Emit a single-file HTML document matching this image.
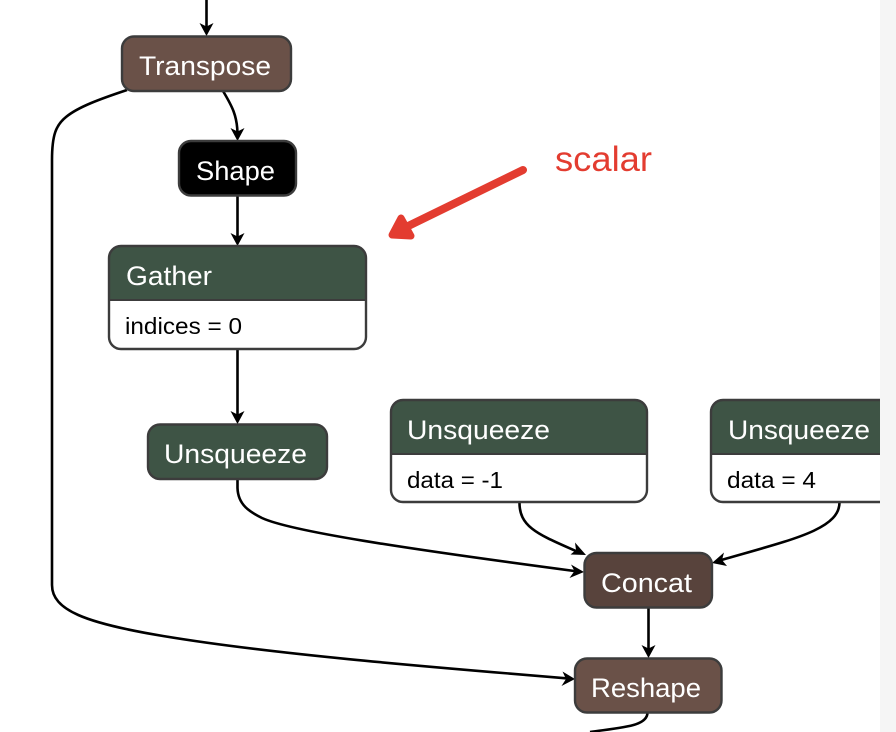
<!DOCTYPE html>
<html>
<head>
<meta charset="utf-8">
<style>
html,body{margin:0;padding:0;background:#fff;width:896px;height:732px;overflow:hidden}
svg{display:block}
text{font-family:"Liberation Sans",sans-serif}
.t{fill:#fff;font-size:27px}
.a{fill:#000;font-size:23px}
.e{fill:none;stroke:#000;stroke-width:2.6}
.h{fill:#000}
.b{stroke:#3c3c3c;stroke-width:2.4}
</style>
</head>
<body>
<svg width="896" height="732" viewBox="0 0 896 732" xmlns="http://www.w3.org/2000/svg">
<defs>
<clipPath id="cg"><path d="M109 300V258a12 12 0 0 1 12-12H354a12 12 0 0 1 12 12V300Z"/></clipPath>
<clipPath id="c2"><path d="M391 454V412a12 12 0 0 1 12-12H635a12 12 0 0 1 12 12V454Z"/></clipPath>
<clipPath id="c3"><path d="M711 454V412a12 12 0 0 1 12-12H1000V454Z"/></clipPath>
</defs>

<!-- edges -->
<path class="e" d="M206.500 0V30"/>
<path class="e" d="M223 91C232 106 237.500 116 237.500 135"/>
<path class="e" d="M237.500 196V240"/>
<path class="e" d="M237.500 349V418"/>
<path class="e" d="M127 90C100 99 78 107 66 117C56 125 52 135 52 160V585C52 610 85 623 163 636C270 654 430 667 569 678.500"/>
<path class="e" d="M237.500 479V488C238 505 250 512 262 518C290 531 400 548 578 571.500"/>
<path class="e" d="M519.500 502C519 528 540 535 578 552"/>
<path class="e" d="M839.500 502C840 530 790 540 718 561"/>
<path class="e" d="M648.500 607V652"/>
<path class="e" d="M647.500 712C648 726 625 727 590 732"/>

<!-- arrowheads -->
<path class="h" d="M206.500 36L199.500 23L206.500 26.500L213.500 23Z"/>
<path class="h" d="M237.500 141L230.500 128L237.500 131.500L244.500 128Z"/>
<path class="h" d="M237.500 246L230.500 233L237.500 236.500L244.500 233Z"/>
<path class="h" d="M237.500 424L230.500 411L237.500 414.500L244.500 411Z"/>
<path class="h" d="M648.500 658L641.500 645L648.500 648.500L655.500 645Z"/>
<path class="h" d="M575 679L562.500 671.500L566 679L561.500 686Z"/>
<path class="h" d="M584 572L571 564.500L574.500 571L569.500 578Z"/>
<path class="h" d="M586 555L570.500 554.500L576 550L575 542.500Z"/>
<path class="h" d="M712 563L724 552.500L722 560L727 566Z"/>

<!-- Transpose -->
<rect class="b" x="122" y="36.500" width="169" height="54.500" rx="12" fill="#6a5148"/>
<text class="t" x="139" y="75" textLength="132" lengthAdjust="spacingAndGlyphs">Transpose</text>

<!-- Shape -->
<rect class="b" x="179" y="141" width="117" height="54.500" rx="12" fill="#000"/>
<text class="t" x="196" y="180" textLength="79" lengthAdjust="spacingAndGlyphs">Shape</text>

<!-- Gather -->
<rect x="109" y="246" width="257" height="103" rx="12" fill="#fff"/>
<rect x="109" y="246" width="257" height="54" fill="#3e5445" clip-path="url(#cg)"/>
<line x1="109" y1="300" x2="366" y2="300" stroke="#3c3c3c" stroke-width="2"/>
<rect class="b" x="109" y="246" width="257" height="103" rx="12" fill="none"/>
<text class="t" x="126" y="285" textLength="86" lengthAdjust="spacingAndGlyphs">Gather</text>
<text class="a" x="125" y="334" textLength="117" lengthAdjust="spacingAndGlyphs">indices = 0</text>

<!-- Unsqueeze 1 -->
<rect class="b" x="148" y="424.500" width="179" height="54.500" rx="12" fill="#3e5445"/>
<text class="t" x="164" y="463" textLength="143" lengthAdjust="spacingAndGlyphs">Unsqueeze</text>

<!-- Unsqueeze 2 -->
<rect x="391" y="400" width="256" height="102" rx="12" fill="#fff"/>
<rect x="391" y="400" width="256" height="54" fill="#3e5445" clip-path="url(#c2)"/>
<line x1="391" y1="454" x2="647" y2="454" stroke="#3c3c3c" stroke-width="2"/>
<rect class="b" x="391" y="400" width="256" height="102" rx="12" fill="none"/>
<text class="t" x="407" y="439" textLength="143" lengthAdjust="spacingAndGlyphs">Unsqueeze</text>
<text class="a" x="407" y="488" textLength="96" lengthAdjust="spacingAndGlyphs">data = -1</text>

<!-- Unsqueeze 3 -->
<rect x="711" y="400" width="290" height="102" rx="12" fill="#fff"/>
<rect x="711" y="400" width="290" height="54" fill="#3e5445" clip-path="url(#c3)"/>
<line x1="711" y1="454" x2="896" y2="454" stroke="#3c3c3c" stroke-width="2"/>
<rect class="b" x="711" y="400" width="290" height="102" rx="12" fill="none"/>
<text class="t" x="728" y="439" textLength="142" lengthAdjust="spacingAndGlyphs">Unsqueeze</text>
<text class="a" x="727" y="488" textLength="89" lengthAdjust="spacingAndGlyphs">data = 4</text>

<!-- Concat -->
<rect class="b" x="584.500" y="553" width="127.500" height="54.500" rx="12" fill="#58433c"/>
<text class="t" x="601" y="592" textLength="91" lengthAdjust="spacingAndGlyphs">Concat</text>

<!-- Reshape -->
<rect class="b" x="575" y="658.500" width="146.500" height="54" rx="12" fill="#6a5148"/>
<text class="t" x="591" y="697" textLength="110" lengthAdjust="spacingAndGlyphs">Reshape</text>

<!-- annotation -->
<path d="M523 170L398 231" fill="none" stroke="#e33c30" stroke-width="8" stroke-linecap="round"/>
<path d="M401 218L392 235L411 236Z" fill="#e33c30" stroke="#e33c30" stroke-width="7" stroke-linejoin="round"/>
<text x="555" y="171" fill="#e33c30" font-size="35" textLength="97" lengthAdjust="spacingAndGlyphs">scalar</text>

<!-- side panel -->
<rect x="880" y="0" width="16" height="732" fill="#f5f5f5"/>
</svg>
</body>
</html>
